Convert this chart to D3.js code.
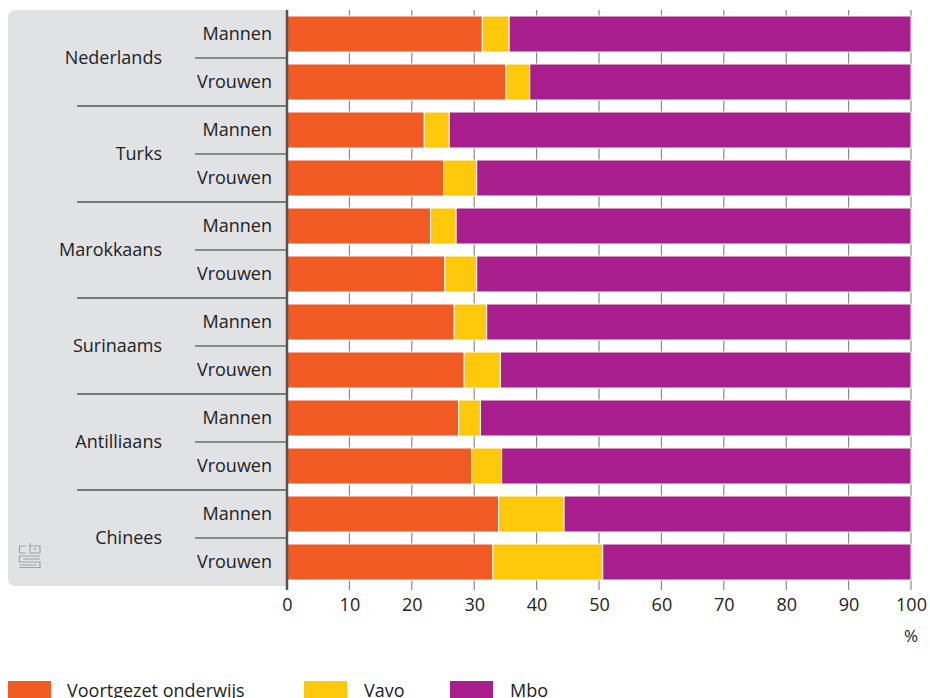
<!DOCTYPE html>
<html><head><meta charset="utf-8">
<script src="https://cdn.jsdelivr.net/npm/d3@7"></script>
<style>
body{margin:0;background:#fff;}
text{font-family:"Open Sans",sans-serif;}
</style></head>
<body>
<svg id="chart" width="930" height="698"></svg>
<script>
const groups = ["Nederlands","Turks","Marokkaans","Surinaams","Antilliaans","Chinees"];
const sexes = ["Mannen","Vrouwen"];
const series = ["Voortgezet onderwijs","Vavo","Mbo"];
const colors = ["#f15a22","#ffc90b","#a81e8c"];
// values per row (group x sex), in percent
const voortgezet = [31.3,35.1, 22.0,25.1, 23.0,25.3, 26.8,28.4, 27.5,29.6, 33.9,33.0];
const vavo       = [ 4.3, 3.8,  4.0, 5.3,  4.1, 5.1,  5.2, 5.8,  3.5, 4.8, 10.5,17.6];
const mbo        = voortgezet.map((v,i)=>100 - v - vavo[i]);
const xTicks = [0,10,20,30,40,50,60,70,80,90,100];

const rows = [];
groups.forEach((g,gi)=>sexes.forEach((s,si)=>{
  const i = gi*2+si;
  rows.push({key:g+"|"+s, group:g, sex:s, values:[voortgezet[i],vavo[i],mbo[i]]});
}));

const svg = d3.select("#chart");
const x0 = 287, x1 = 911, yTop = 10, yBot = 586;
const x = d3.scaleLinear().domain([0,100]).range([x0,x1]);
const y = d3.scaleBand().domain(rows.map(r=>r.key)).range([yTop,yBot]).paddingInner(0.25).paddingOuter(0.125);
const step = y.step();

// panel
svg.append("path")
  .attr("d",`M${x0},${yTop} L16,${yTop} Q8,${yTop} 8,${yTop+8} L8,${yBot-8} Q8,${yBot} 16,${yBot} L${x0},${yBot} Z`)
  .attr("fill","#e1e2e4");

// gridlines
svg.append("g").selectAll("line").data(xTicks.slice(1)).join("line")
  .attr("x1",d=>x(d)).attr("x2",d=>x(d)).attr("y1",yTop).attr("y2",yBot+4)
  .attr("stroke","#8a8a8a").attr("stroke-width",1.2);

// bars
const stack = rows.map(r=>{let c=0;return r.values.map((v,k)=>{const s={row:r.key,k,a:c,b:c+v};c+=v;return s;});}).flat();
svg.append("g").selectAll("rect").data(stack).join("rect")
  .attr("x",d=>x(d.a)).attr("width",d=>x(d.b)-x(d.a))
  .attr("y",d=>y(d.row)).attr("height",y.bandwidth())
  .attr("fill",d=>colors[d.k]).attr("stroke","#fff").attr("stroke-width",1);

// separators in panel
groups.forEach((g,gi)=>{
  const mid = yTop + step*(gi*2+1);
  svg.append("line").attr("x1",195).attr("x2",x0).attr("y1",mid).attr("y2",mid).attr("stroke","#333").attr("stroke-width",1.2);
  if(gi<groups.length-1){
    const sep = yTop + step*(gi*2+2);
    svg.append("line").attr("x1",77).attr("x2",x0).attr("y1",sep).attr("y2",sep).attr("stroke","#111").attr("stroke-width",1.2);
  }
  svg.append("text").attr("x",162).attr("y",mid).attr("dy","0.35em").attr("text-anchor","end")
    .attr("font-size",18).attr("fill","#222").text(g);
});
rows.forEach(r=>{
  svg.append("text").attr("x",272).attr("y",y(r.key)+y.bandwidth()/2).attr("dy","0.35em")
    .attr("text-anchor","end").attr("font-size",18).attr("fill","#222").text(r.sex);
});

// y axis line
svg.append("line").attr("x1",x0).attr("x2",x0).attr("y1",yTop).attr("y2",yBot+4).attr("stroke","#555").attr("stroke-width",2.5);

// x axis labels
const ax = svg.append("g").attr("transform",`translate(0,${yBot})`)
  .call(d3.axisBottom(x).tickValues(xTicks).tickSize(0).tickPadding(12).tickFormat(d3.format("d")));
ax.select(".domain").remove();
ax.selectAll("text").attr("font-size",18).attr("fill","#222").style("font-family","'Open Sans',sans-serif");
svg.append("text").attr("x",x(100)).attr("y",642).attr("text-anchor","middle").attr("font-size",17).attr("fill","#222").text("%");

// logo (cbs)
const lg = svg.append("g").attr("fill","none").attr("stroke","#a0a0a0").attr("stroke-width",1.2);
lg.append("path").attr("d","M26,546 L19.5,546 L19.5,553 L26,553");
lg.append("path").attr("d","M30,543 L30,553 L40,553 L40,546 L30,546");
lg.append("path").attr("d","M33.5,549 L36.5,549");
lg.append("path").attr("d","M40,556 L19.5,556 L19.5,562 L40,562 L40,567.5 L19.5,567.5");
lg.append("path").attr("d","M23,559 L40,559 M19.5,565 L36.5,565");

// legend
const legX = [8,304,450];
const legT = [67,364,510];
series.forEach((s,i)=>{
  svg.append("rect").attr("x",legX[i]).attr("y",681).attr("width",43).attr("height",20).attr("fill",colors[i]);
  svg.append("text").attr("x",legT[i]).attr("y",697).attr("font-size",18).attr("fill","#222").text(s);
});
</script>
</body></html>
